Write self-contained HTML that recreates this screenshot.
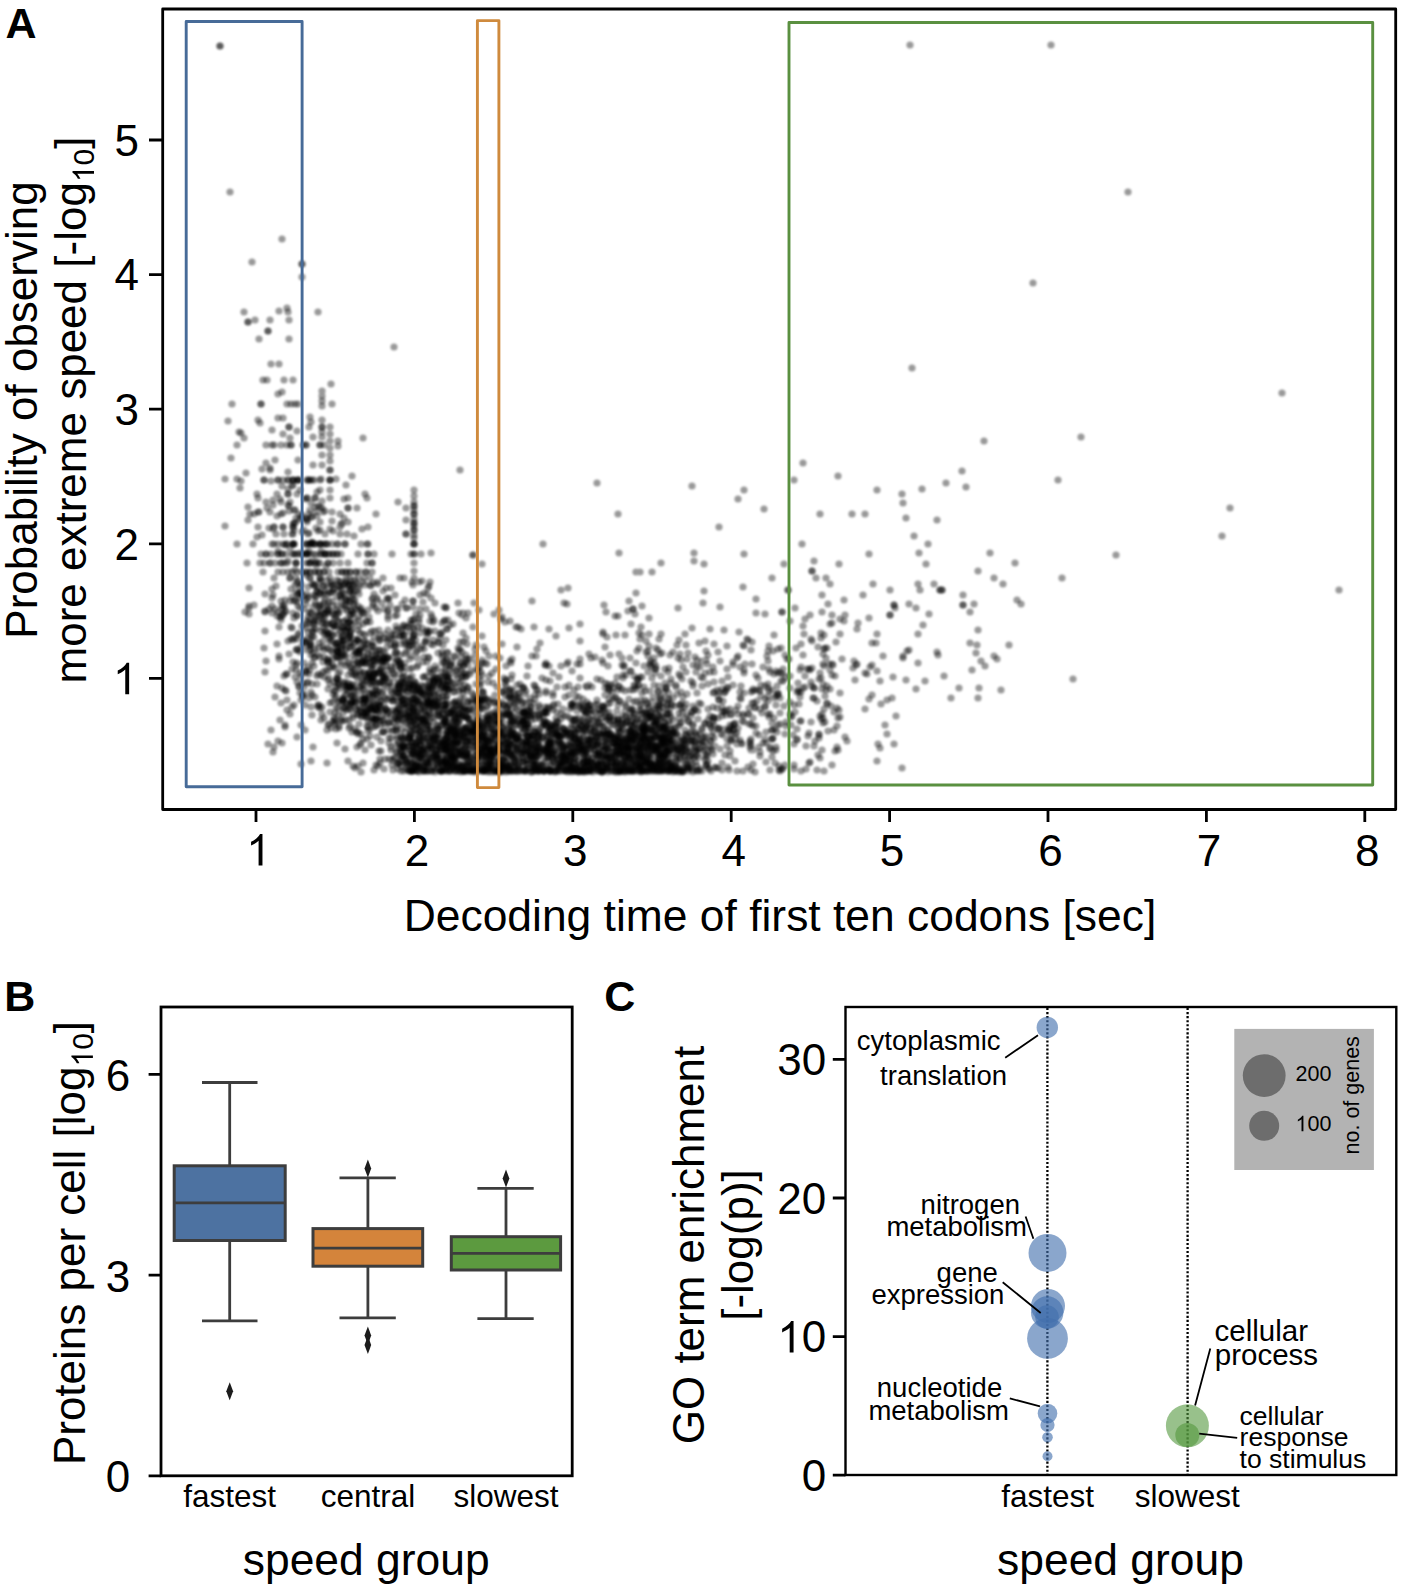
<!DOCTYPE html>
<html><head><meta charset="utf-8"><style>html,body{margin:0;padding:0;background:#fff;width:1405px;height:1592px;overflow:hidden}svg{display:block}text{font-family:"Liberation Sans",sans-serif}</style></head>
<body><svg width="1405" height="1592" viewBox="0 0 1405 1592"><defs><filter id="bl" x="-5%" y="-5%" width="110%" height="110%"><feGaussianBlur stdDeviation="1.0"/></filter></defs><g stroke="#000" stroke-opacity="0.4" stroke-width="7.2" stroke-linecap="round" fill="none" filter="url(#bl)"><path d="M660 761h0M591 740h0M649 742h0M700 734h0M656 720h0M330 448h0M692 741h0M454 656h0M320 544h0M468 719h0M369 682h0M278 551h0M373 695h0M671 765h0M530 757h0M581 770h0M695 709h0M457 743h0M742 744h0M418 758h0M404 699h0M368 703h0M400 578h0M448 766h0M663 729h0M550 765h0M455 757h0M414 635h0M372 678h0M659 703h0M428 702h0M476 701h0M615 772h0M422 755h0M682 740h0M376 674h0M583 745h0M636 572h0M355 699h0M406 644h0M314 637h0M528 736h0M370 736h0M348 498h0M626 723h0M496 720h0M409 684h0M603 663h0M641 755h0M528 724h0M437 749h0M588 744h0M445 762h0M340 595h0M605 695h0M429 686h0M376 690h0M359 626h0M776 671h0M401 682h0M712 750h0M372 656h0M338 702h0M869 618h0M575 763h0M603 726h0M468 702h0M516 627h0M576 752h0M368 554h0M778 649h0M587 705h0M293 527h0M408 627h0M382 673h0M306 643h0M635 724h0M380 635h0M346 631h0M698 719h0M438 728h0M435 770h0M615 739h0M425 753h0M608 693h0M569 767h0M469 769h0M308 598h0M330 434h0M623 752h0M639 764h0M640 572h0M476 669h0M620 772h0M358 714h0M688 767h0M369 704h0M633 761h0M481 681h0M312 584h0M336 708h0M724 711h0M364 680h0M497 771h0M511 771h0M306 544h0M670 770h0M337 679h0M333 659h0M563 746h0M365 699h0M914 536h0M548 743h0M288 312h0M292 669h0M404 640h0M660 711h0M546 693h0M560 763h0"/><path d="M674 732h0M400 664h0M678 750h0M795 712h0M317 684h0M602 750h0M633 769h0M309 698h0M420 731h0M728 688h0M294 530h0M331 585h0M539 768h0M464 665h0M457 755h0M551 748h0M330 490h0M590 749h0M502 644h0M399 744h0M623 741h0M274 527h0M610 757h0M454 714h0M646 741h0M464 698h0M439 703h0M343 708h0M974 604h0M400 636h0M311 422h0M811 682h0M575 746h0M445 720h0M481 672h0M570 761h0M664 739h0M597 755h0M319 572h0M440 750h0M434 682h0M509 705h0M668 714h0M323 586h0M367 622h0M636 753h0M631 725h0M403 756h0M625 704h0M500 769h0M664 722h0M314 658h0M465 748h0M308 667h0M380 706h0M687 766h0M328 689h0M447 685h0M349 622h0M416 699h0M488 769h0M375 710h0M443 655h0M511 735h0M686 704h0M657 768h0M358 620h0M649 618h0M643 770h0M609 712h0M540 643h0M649 646h0M414 712h0M324 634h0M273 529h0M619 723h0M381 709h0M595 720h0M822 595h0M937 520h0M474 603h0M481 752h0M325 544h0M826 690h0M289 511h0M631 747h0M491 751h0M429 701h0M702 741h0M315 649h0M682 708h0M394 347h0M629 737h0M752 664h0M942 590h0M544 748h0M479 756h0M589 748h0M620 754h0M653 734h0M654 765h0M670 740h0M397 739h0M455 703h0M310 572h0M613 688h0M499 742h0M411 763h0M494 752h0M320 445h0M590 724h0M470 771h0M940 590h0M770 770h0M865 673h0M289 427h0M382 681h0M495 769h0M587 739h0"/><path d="M535 764h0M488 766h0M389 743h0M522 704h0M590 762h0M490 724h0M489 719h0M315 657h0M350 621h0M627 762h0M829 664h0M444 723h0M586 713h0M452 662h0M490 746h0M460 754h0M278 741h0M509 742h0M670 750h0M272 598h0M503 728h0M437 757h0M459 751h0M350 615h0M429 744h0M589 709h0M659 705h0M346 572h0M381 725h0M765 699h0M602 747h0M448 731h0M670 709h0M606 764h0M539 767h0M307 520h0M248 322h0M463 749h0M294 601h0M784 564h0M718 696h0M675 765h0M535 699h0M429 730h0M857 629h0M404 672h0M550 771h0M414 578h0M661 770h0M656 666h0M767 656h0M657 771h0M756 690h0M618 690h0M525 694h0M600 761h0M502 764h0M473 760h0M643 713h0M449 674h0M647 704h0M306 673h0M294 705h0M446 685h0M318 588h0M371 745h0M399 644h0M407 723h0M439 682h0M495 722h0M722 689h0M791 725h0M410 758h0M377 711h0M556 744h0M718 718h0M564 747h0M353 646h0M437 686h0M471 763h0M499 762h0M406 534h0M699 757h0M664 763h0M424 734h0M490 723h0M651 716h0M497 718h0M572 705h0M489 741h0M595 712h0M396 752h0M510 691h0M691 767h0M607 730h0M437 706h0M583 751h0M638 736h0M502 740h0M663 716h0M632 709h0M357 508h0M420 615h0M332 624h0M567 604h0M452 768h0M463 692h0M630 738h0M646 771h0M615 683h0M546 691h0M352 476h0M668 750h0M333 625h0M388 670h0M498 703h0M378 658h0M480 704h0M547 770h0"/><path d="M366 713h0M589 765h0M575 719h0M801 692h0M679 674h0M503 760h0M423 741h0M519 759h0M643 756h0M364 709h0M355 600h0M653 765h0M350 635h0M358 681h0M728 767h0M424 771h0M455 718h0M501 731h0M564 734h0M338 572h0M575 733h0M373 661h0M815 741h0M503 768h0M651 712h0M572 707h0M619 701h0M412 582h0M873 584h0M680 705h0M461 704h0M319 572h0M672 768h0M483 764h0M409 688h0M383 711h0M649 713h0M679 772h0M812 571h0M269 609h0M865 709h0M328 634h0M776 696h0M562 751h0M336 643h0M297 737h0M412 727h0M291 589h0M431 700h0M346 599h0M447 689h0M636 763h0M457 736h0M563 764h0M810 762h0M294 638h0M343 699h0M409 700h0M336 729h0M574 738h0M257 494h0M312 561h0M483 709h0M283 572h0M367 712h0M598 771h0M333 563h0M575 757h0M298 480h0M365 494h0M561 748h0M403 626h0M432 688h0M443 741h0M444 740h0M410 751h0M316 616h0M402 604h0M460 733h0M702 771h0M751 770h0M538 771h0M321 554h0M744 670h0M621 748h0M453 692h0M649 753h0M512 756h0M300 693h0M794 480h0M645 746h0M360 671h0M632 755h0M462 689h0M335 698h0M582 750h0M585 722h0M566 771h0M642 736h0M559 742h0M549 749h0M654 771h0M452 762h0M811 639h0M414 694h0M567 760h0M498 745h0M994 578h0M506 666h0M316 597h0M620 771h0M411 771h0M415 714h0M331 582h0M475 734h0M430 631h0M321 554h0M362 661h0M379 706h0"/><path d="M322 595h0M376 708h0M431 749h0M424 766h0M457 728h0M647 764h0M978 698h0M484 770h0M335 722h0M772 730h0M458 648h0M574 750h0M516 708h0M445 689h0M339 613h0M688 769h0M301 725h0M937 652h0M444 662h0M350 572h0M347 619h0M278 554h0M328 671h0M800 670h0M352 732h0M490 763h0M517 750h0M578 751h0M372 669h0M660 765h0M454 735h0M653 717h0M407 680h0M798 690h0M431 697h0M823 718h0M398 718h0M319 615h0M557 733h0M468 613h0M438 715h0M349 638h0M827 703h0M830 624h0M341 599h0M511 679h0M376 691h0M307 498h0M778 695h0M302 646h0M775 763h0M310 554h0M392 670h0M438 706h0M437 715h0M364 655h0M327 595h0M894 605h0M444 764h0M632 762h0M641 772h0M638 758h0M946 483h0M821 678h0M586 753h0M736 739h0M385 675h0M365 712h0M627 747h0M298 581h0M455 714h0M269 528h0M608 758h0M644 687h0M892 698h0M365 648h0M343 640h0M735 723h0M584 763h0M548 769h0M675 767h0M558 769h0M450 670h0M464 734h0M261 404h0M466 727h0M274 578h0M368 651h0M436 759h0M636 752h0M430 582h0M472 731h0M408 764h0M501 772h0M616 698h0M614 717h0M418 717h0M432 617h0M659 763h0M511 735h0M387 676h0M438 764h0M1021 604h0M296 563h0M266 445h0M374 707h0M386 709h0M310 480h0M274 445h0M598 723h0M372 678h0M730 729h0M503 716h0M636 734h0M454 702h0M515 771h0M499 722h0M387 657h0M465 771h0"/><path d="M461 708h0M515 766h0M615 616h0M288 505h0M655 751h0M564 716h0M696 751h0M457 670h0M539 747h0M468 737h0M537 757h0M699 771h0M686 749h0M564 760h0M531 717h0M603 632h0M328 563h0M561 736h0M332 636h0M561 762h0M393 701h0M460 649h0M367 563h0M740 692h0M392 760h0M417 651h0M660 705h0M359 642h0M383 677h0M430 681h0M349 636h0M330 498h0M643 749h0M629 758h0M745 664h0M538 739h0M328 680h0M372 706h0M385 660h0M314 585h0M344 606h0M520 753h0M548 732h0M694 750h0M503 722h0M620 732h0M511 753h0M507 738h0M320 593h0M347 686h0M676 727h0M544 750h0M636 663h0M644 731h0M643 771h0M505 622h0M646 743h0M560 743h0M623 753h0M567 664h0M338 446h0M893 677h0M733 730h0M639 685h0M508 768h0M735 761h0M485 761h0M324 657h0M397 752h0M337 678h0M462 736h0M756 599h0M606 741h0M277 644h0M249 614h0M743 714h0M348 606h0M494 740h0M681 723h0M564 733h0M300 593h0M339 726h0M506 686h0M580 641h0M630 759h0M454 716h0M318 312h0M628 749h0M469 750h0M583 771h0M351 684h0M262 469h0M433 679h0M320 582h0M291 404h0M696 734h0M396 712h0M654 738h0M556 723h0M412 763h0M401 760h0M452 769h0M414 554h0M926 564h0M583 753h0M657 737h0M907 651h0M566 761h0M592 747h0M526 744h0M439 697h0M580 740h0M620 743h0M617 742h0M377 660h0M414 709h0M580 771h0M489 656h0M596 763h0"/><path d="M731 740h0M338 684h0M651 716h0M478 748h0M617 761h0M395 616h0M499 610h0M414 526h0M325 554h0M672 705h0M553 761h0M644 737h0M651 757h0M431 736h0M445 709h0M417 728h0M890 590h0M485 762h0M693 772h0M320 593h0M503 750h0M784 706h0M431 747h0M522 733h0M602 764h0M421 719h0M482 564h0M665 683h0M494 614h0M345 655h0M402 757h0M690 733h0M635 745h0M478 713h0M620 771h0M412 754h0M404 738h0M678 771h0M297 663h0M448 681h0M483 737h0M435 737h0M499 745h0M424 707h0M786 726h0M361 734h0M533 761h0M570 746h0M663 764h0M416 743h0M803 463h0M364 578h0M324 718h0M376 655h0M574 767h0M427 734h0M352 588h0M552 759h0M365 641h0M445 673h0M515 734h0M414 490h0M310 643h0M719 700h0M462 717h0M631 741h0M328 663h0M416 689h0M562 765h0M330 642h0M511 663h0M644 730h0M539 748h0M618 719h0M444 744h0M527 728h0M527 676h0M751 650h0M384 658h0M613 738h0M293 534h0M545 707h0M638 719h0M680 759h0M523 733h0M578 729h0M550 743h0M463 728h0M527 749h0M480 708h0M501 715h0M375 631h0M460 642h0M401 771h0M785 765h0M526 691h0M419 622h0M572 772h0M592 687h0M785 766h0M346 695h0M511 689h0M346 666h0M749 708h0M318 531h0M358 640h0M304 554h0M706 754h0M419 767h0M365 663h0M546 680h0M555 725h0M461 750h0M416 731h0M778 725h0M383 676h0M404 625h0M673 735h0M405 747h0"/><path d="M328 610h0M660 744h0M272 589h0M515 763h0M592 758h0M304 687h0M468 710h0M330 441h0M465 737h0M316 544h0M684 764h0M480 707h0M368 610h0M342 637h0M505 751h0M652 726h0M505 748h0M548 756h0M338 621h0M419 705h0M640 755h0M766 732h0M997 659h0M276 534h0M583 762h0M503 766h0M514 754h0M278 480h0M509 770h0M413 703h0M646 763h0M381 751h0M313 653h0M427 594h0M337 554h0M490 750h0M307 544h0M454 767h0M476 756h0M382 667h0M313 544h0M443 724h0M590 740h0M355 643h0M322 420h0M285 600h0M619 738h0M668 767h0M331 728h0M467 675h0M499 752h0M385 653h0M664 727h0M515 759h0M744 646h0M314 584h0M641 771h0M651 741h0M442 725h0M391 588h0M429 746h0M722 707h0M574 720h0M377 600h0M339 728h0M422 730h0M501 733h0M320 708h0M468 729h0M435 700h0M466 736h0M422 721h0M377 720h0M470 749h0M530 738h0M481 702h0M890 615h0M435 740h0M630 658h0M289 339h0M608 743h0M553 759h0M641 719h0M306 544h0M478 721h0M702 730h0M668 703h0M482 663h0M442 771h0M318 622h0M341 524h0M770 672h0M602 771h0M434 641h0M340 527h0M405 635h0M618 766h0M346 703h0M527 719h0M461 730h0M641 728h0M912 368h0M799 692h0M648 763h0M697 736h0M478 769h0M353 655h0M519 766h0M734 729h0M282 688h0M464 771h0M265 612h0M414 538h0M398 629h0M606 757h0M421 719h0M645 726h0M433 640h0M424 707h0"/><path d="M497 766h0M650 715h0M794 744h0M567 749h0M628 731h0M726 690h0M645 750h0M772 723h0M379 673h0M527 764h0M422 749h0M446 750h0M820 716h0M529 732h0M451 747h0M433 680h0M429 707h0M664 763h0M451 729h0M744 490h0M682 772h0M333 554h0M342 700h0M369 617h0M447 748h0M837 747h0M551 765h0M404 684h0M651 768h0M485 747h0M994 656h0M534 627h0M814 561h0M435 739h0M803 655h0M680 705h0M287 544h0M570 733h0M671 733h0M804 634h0M587 761h0M434 767h0M580 737h0M480 698h0M652 678h0M631 733h0M312 480h0M355 768h0M538 771h0M293 544h0M511 755h0M414 563h0M376 711h0M683 745h0M297 583h0M574 730h0M564 729h0M627 735h0M551 729h0M466 745h0M405 600h0M725 729h0M558 704h0M600 714h0M685 743h0M352 611h0M595 766h0M288 480h0M558 722h0M565 755h0M568 735h0M610 703h0M357 747h0M637 765h0M675 771h0M670 714h0M648 755h0M413 585h0M576 743h0M779 770h0M591 731h0M415 765h0M488 772h0M635 614h0M351 696h0M393 710h0M959 688h0M307 522h0M641 752h0M502 692h0M706 758h0M323 672h0M532 769h0M544 737h0M609 749h0M655 721h0M271 481h0M384 704h0M607 637h0M402 705h0M708 761h0M350 572h0M657 767h0M782 612h0M379 706h0M370 633h0M322 455h0M435 603h0M323 647h0M606 768h0M404 739h0M832 615h0M384 609h0M427 724h0M858 623h0M572 768h0M585 772h0M579 742h0M431 745h0"/><path d="M419 766h0M395 644h0M614 725h0M408 715h0M661 634h0M620 753h0M835 751h0M695 743h0M723 735h0M538 737h0M273 752h0M387 659h0M435 772h0M453 709h0M615 751h0M307 480h0M548 707h0M428 725h0M486 699h0M522 745h0M410 725h0M453 721h0M413 771h0M493 738h0M342 572h0M647 702h0M922 489h0M427 762h0M608 749h0M438 758h0M364 703h0M483 692h0M315 620h0M416 645h0M652 572h0M575 768h0M446 717h0M478 728h0M628 741h0M589 685h0M586 686h0M384 681h0M569 768h0M659 734h0M280 720h0M761 685h0M330 712h0M361 712h0M853 668h0M330 667h0M557 721h0M461 769h0M872 695h0M730 739h0M640 765h0M439 698h0M531 772h0M823 664h0M408 746h0M527 764h0M584 751h0M443 758h0M264 648h0M461 755h0M414 762h0M609 739h0M400 748h0M333 694h0M652 750h0M519 741h0M302 532h0M453 767h0M396 626h0M781 681h0M374 673h0M701 677h0M449 677h0M259 339h0M685 718h0M306 628h0M388 711h0M768 661h0M711 728h0M668 742h0M634 714h0M605 717h0M663 738h0M456 672h0M585 711h0M371 707h0M270 320h0M727 739h0M497 771h0M472 770h0M576 719h0M550 771h0M409 687h0M869 554h0M610 759h0M506 680h0M727 746h0M241 481h0M577 750h0M683 772h0M532 764h0M267 380h0M341 721h0M591 769h0M524 713h0M559 737h0M487 755h0M394 758h0M348 508h0M722 712h0M547 747h0M629 601h0M363 712h0M391 750h0M382 732h0"/><path d="M740 740h0M651 758h0M642 748h0M272 613h0M711 726h0M402 712h0M291 445h0M456 735h0M513 767h0M667 733h0M406 652h0M615 743h0M467 717h0M657 745h0M335 713h0M445 749h0M367 714h0M664 746h0M374 700h0M373 604h0M633 771h0M530 711h0M650 739h0M442 758h0M630 731h0M571 752h0M660 750h0M430 738h0M845 737h0M449 713h0M374 665h0M391 633h0M300 608h0M459 702h0M479 771h0M580 707h0M480 699h0M435 706h0M373 694h0M710 716h0M275 563h0M493 735h0M380 700h0M297 616h0M669 699h0M678 658h0M634 702h0M445 709h0M569 761h0M283 544h0M526 754h0M678 770h0M443 683h0M472 738h0M666 689h0M503 705h0M492 753h0M428 737h0M481 736h0M526 745h0M515 704h0M613 752h0M320 530h0M553 751h0M643 733h0M507 743h0M431 728h0M518 627h0M604 732h0M677 645h0M743 716h0M426 695h0M667 769h0M439 643h0M504 678h0M316 555h0M466 618h0M659 716h0M398 661h0M320 608h0M415 730h0M925 681h0M388 658h0M364 703h0M485 771h0M452 738h0M558 736h0M442 686h0M570 709h0M279 659h0M652 730h0M667 733h0M414 710h0M532 757h0M404 714h0M338 585h0M361 686h0M322 613h0M510 725h0M350 590h0M648 708h0M363 763h0M442 657h0M546 663h0M597 737h0M289 506h0M270 563h0M588 741h0M406 762h0M467 732h0M487 725h0M384 657h0M354 664h0M315 586h0M719 728h0M442 663h0M310 578h0M311 707h0M388 630h0"/><path d="M561 771h0M633 609h0M764 509h0M821 719h0M429 764h0M1058 480h0M512 731h0M296 592h0M370 578h0M780 713h0M671 717h0M314 544h0M312 636h0M440 741h0M448 765h0M442 750h0M443 696h0M297 615h0M517 738h0M520 684h0M286 691h0M336 657h0M766 762h0M427 703h0M697 749h0M649 768h0M297 554h0M322 618h0M396 711h0M372 646h0M684 740h0M554 762h0M355 673h0M410 736h0M474 695h0M580 768h0M402 678h0M445 770h0M345 708h0M586 767h0M428 771h0M487 707h0M342 647h0M401 730h0M577 664h0M529 743h0M620 742h0M441 739h0M414 706h0M720 661h0M554 758h0M618 728h0M405 759h0M466 677h0M436 745h0M695 746h0M646 714h0M417 712h0M498 748h0M580 624h0M589 654h0M530 735h0M561 666h0M509 744h0M442 718h0M410 713h0M578 761h0M616 739h0M548 752h0M483 768h0M463 737h0M619 553h0M244 438h0M469 720h0M669 740h0M684 757h0M488 714h0M637 756h0M475 730h0M707 764h0M453 757h0M471 703h0M755 708h0M413 746h0M351 704h0M348 761h0M432 761h0M627 748h0M663 730h0M669 743h0M606 757h0M344 701h0M532 771h0M710 629h0M386 709h0M877 490h0M557 728h0M249 606h0M620 767h0M270 563h0M522 758h0M308 597h0M512 716h0M460 755h0M446 608h0M630 771h0M644 761h0M411 713h0M616 752h0M635 733h0M574 771h0M391 747h0M310 578h0M527 735h0M307 683h0M483 692h0M359 659h0M867 674h0M305 730h0"/><path d="M388 610h0M516 748h0M664 692h0M548 754h0M668 771h0M445 771h0M368 727h0M259 512h0M505 683h0M520 700h0M616 764h0M404 578h0M631 624h0M370 585h0M553 706h0M418 716h0M641 766h0M418 689h0M466 655h0M516 739h0M564 729h0M544 750h0M698 711h0M320 647h0M538 735h0M457 727h0M636 738h0M446 607h0M825 648h0M258 527h0M504 756h0M664 771h0M523 721h0M466 717h0M643 723h0M723 701h0M275 609h0M431 705h0M417 771h0M686 763h0M688 653h0M539 741h0M679 713h0M306 563h0M339 680h0M636 701h0M535 728h0M688 741h0M718 652h0M459 709h0M640 749h0M254 605h0M555 771h0M495 771h0M644 722h0M536 757h0M480 702h0M503 736h0M459 613h0M531 760h0M663 703h0M709 724h0M657 706h0M295 677h0M814 746h0M352 669h0M421 750h0M636 742h0M489 741h0M440 747h0M641 710h0M262 535h0M559 677h0M314 554h0M249 608h0M365 635h0M404 771h0M492 765h0M778 673h0M436 729h0M319 705h0M377 683h0M538 690h0M448 679h0M459 717h0M450 682h0M504 730h0M604 707h0M341 582h0M453 704h0M394 723h0M820 514h0M474 767h0M508 743h0M660 728h0M515 737h0M407 691h0M248 507h0M322 432h0M637 770h0M503 728h0M417 701h0M424 766h0M414 730h0M656 738h0M416 725h0M406 520h0M278 554h0M406 714h0M362 663h0M318 648h0M598 752h0M334 718h0M536 750h0M383 691h0M504 758h0M266 463h0M484 771h0"/><path d="M480 752h0M398 769h0M417 667h0M459 714h0M618 721h0M702 686h0M495 735h0M459 734h0M324 593h0M617 772h0M724 693h0M249 588h0M663 770h0M355 580h0M486 750h0M553 693h0M408 770h0M397 653h0M790 621h0M620 746h0M603 707h0M725 712h0M414 719h0M781 648h0M449 727h0M650 746h0M356 653h0M527 742h0M330 470h0M508 711h0M728 730h0M753 689h0M319 643h0M592 732h0M608 730h0M375 705h0M738 656h0M660 764h0M730 725h0M584 755h0M1009 645h0M510 731h0M885 725h0M647 724h0M455 743h0M797 740h0M516 758h0M297 602h0M429 738h0M445 692h0M625 746h0M703 737h0M629 761h0M344 518h0M327 631h0M298 480h0M258 512h0M561 756h0M498 733h0M467 757h0M344 621h0M491 714h0M313 437h0M445 720h0M697 755h0M328 624h0M453 744h0M608 750h0M655 747h0M491 757h0M253 544h0M346 657h0M697 693h0M359 653h0M640 767h0M378 672h0M472 767h0M814 688h0M611 735h0M629 757h0M542 765h0M981 661h0M423 719h0M478 744h0M740 698h0M337 580h0M591 720h0M442 743h0M578 753h0M662 763h0M550 752h0M562 744h0M383 591h0M283 480h0M510 621h0M519 720h0M428 692h0M616 771h0M512 675h0M669 721h0M741 686h0M471 741h0M454 750h0M659 709h0M398 693h0M367 663h0M625 743h0M264 563h0M418 627h0M657 770h0M412 708h0M604 756h0M445 752h0M474 725h0M718 729h0M423 695h0M363 438h0M756 675h0"/><path d="M476 736h0M669 738h0M351 703h0M324 586h0M616 757h0M458 722h0M617 677h0M447 742h0M489 732h0M446 750h0M759 747h0M462 750h0M773 751h0M844 600h0M455 735h0M351 581h0M467 754h0M824 666h0M636 749h0M756 726h0M357 591h0M516 725h0M343 585h0M553 673h0M812 571h0M277 616h0M438 679h0M765 614h0M418 752h0M466 717h0M682 752h0M433 622h0M600 769h0M303 695h0M622 764h0M612 771h0M713 732h0M418 687h0M302 277h0M429 711h0M467 691h0M539 736h0M692 712h0M640 746h0M306 575h0M532 739h0M571 704h0M462 767h0M714 718h0M371 678h0M322 501h0M580 739h0M354 605h0M694 553h0M708 720h0M392 693h0M485 770h0M711 741h0M433 735h0M552 758h0M314 622h0M702 744h0M322 508h0M491 738h0M439 709h0M452 756h0M401 750h0M421 709h0M352 629h0M472 723h0M700 749h0M449 717h0M436 751h0M545 751h0M327 660h0M452 682h0M641 741h0M568 755h0M714 644h0M431 731h0M308 632h0M453 749h0M944 676h0M437 754h0M350 636h0M446 666h0M434 756h0M618 514h0M583 745h0M355 691h0M834 712h0M446 762h0M587 702h0M376 658h0M635 737h0M540 719h0M629 771h0M478 770h0M463 753h0M697 770h0M426 676h0M468 659h0M409 646h0M398 689h0M595 705h0M742 721h0M674 769h0M390 605h0M689 722h0M668 749h0M856 665h0M398 709h0M657 721h0M610 718h0M519 698h0M689 752h0M559 741h0M540 751h0"/><path d="M809 763h0M389 738h0M877 634h0M793 735h0M285 725h0M512 737h0M455 657h0M557 736h0M419 711h0M664 718h0M659 771h0M681 660h0M569 695h0M646 771h0M484 701h0M471 745h0M424 769h0M525 771h0M427 630h0M346 485h0M510 661h0M414 523h0M443 714h0M531 755h0M441 747h0M639 752h0M906 680h0M369 676h0M773 651h0M308 534h0M346 650h0M520 771h0M517 771h0M482 750h0M279 627h0M647 713h0M644 752h0M651 667h0M402 699h0M515 761h0M656 753h0M731 741h0M629 755h0M379 650h0M365 660h0M515 695h0M228 421h0M303 697h0M554 727h0M641 756h0M298 650h0M639 768h0M419 688h0M337 614h0M668 752h0M422 751h0M639 727h0M532 772h0M624 767h0M679 640h0M657 720h0M402 629h0M309 612h0M797 729h0M697 666h0M601 756h0M377 718h0M405 654h0M383 578h0M592 710h0M795 608h0M824 709h0M338 621h0M580 747h0M373 722h0M462 652h0M332 404h0M368 710h0M316 528h0M397 736h0M598 764h0M290 601h0M544 771h0M368 721h0M415 762h0M461 766h0M476 745h0M472 731h0M655 737h0M669 693h0M587 744h0M361 544h0M598 710h0M332 592h0M436 735h0M447 767h0M583 699h0M399 763h0M605 688h0M428 588h0M365 644h0M755 707h0M551 735h0M461 741h0M418 690h0M272 430h0M501 742h0M646 728h0M507 708h0M448 714h0M546 722h0M352 695h0M658 720h0M539 731h0M822 612h0M647 759h0M334 619h0M328 662h0"/><path d="M459 683h0M342 701h0M695 756h0M410 624h0M522 737h0M287 700h0M322 714h0M309 623h0M429 722h0M401 766h0M564 765h0M454 771h0M579 718h0M337 651h0M469 739h0M585 756h0M439 693h0M605 647h0M424 737h0M669 738h0M598 741h0M729 731h0M307 554h0M651 661h0M373 682h0M447 676h0M683 769h0M345 749h0M644 729h0M666 748h0M565 758h0M624 665h0M272 445h0M929 614h0M570 718h0M365 689h0M827 704h0M330 703h0M796 648h0M647 758h0M322 623h0M662 742h0M588 771h0M442 652h0M389 599h0M765 706h0M673 733h0M561 767h0M540 746h0M823 684h0M574 769h0M780 724h0M641 738h0M808 736h0M488 769h0M560 766h0M441 705h0M782 612h0M578 687h0M611 763h0M599 753h0M633 609h0M671 744h0M523 688h0M479 736h0M333 614h0M340 631h0M644 736h0M445 740h0M596 726h0M572 767h0M666 688h0M676 745h0M544 771h0M667 714h0M740 667h0M333 635h0M576 768h0M339 686h0M495 733h0M302 626h0M663 757h0M336 644h0M392 765h0M347 689h0M363 685h0M668 764h0M478 671h0M416 614h0M330 427h0M467 752h0M345 544h0M366 674h0M271 730h0M637 720h0M608 769h0M489 676h0M451 730h0M543 544h0M473 771h0M444 705h0M360 649h0M469 762h0M692 764h0M483 765h0M451 760h0M300 673h0M466 756h0M458 755h0M474 732h0M680 654h0M744 693h0M397 730h0M422 759h0M578 772h0M651 738h0M294 554h0M473 742h0"/><path d="M517 685h0M671 683h0M536 769h0M654 663h0M348 508h0M517 647h0M706 765h0M598 756h0M627 752h0M261 404h0M695 741h0M790 714h0M685 730h0M499 735h0M432 748h0M535 761h0M312 715h0M412 753h0M528 666h0M536 656h0M374 647h0M409 728h0M535 695h0M561 736h0M593 772h0M504 771h0M749 724h0M727 710h0M478 740h0M351 667h0M622 658h0M350 648h0M418 665h0M696 762h0M494 729h0M609 735h0M652 744h0M538 770h0M362 529h0M299 514h0M634 728h0M414 530h0M641 714h0M669 763h0M643 726h0M615 747h0M572 758h0M574 749h0M542 678h0M618 748h0M676 687h0M318 705h0M672 767h0M451 712h0M533 744h0M751 739h0M407 728h0M328 659h0M625 772h0M662 752h0M643 730h0M308 638h0M420 732h0M320 605h0M383 662h0M589 761h0M356 651h0M489 721h0M334 691h0M612 762h0M634 741h0M334 626h0M632 725h0M588 762h0M367 677h0M487 746h0M437 669h0M306 445h0M579 705h0M373 697h0M790 676h0M787 659h0M450 771h0M490 746h0M649 739h0M655 723h0M611 756h0M619 654h0M321 631h0M483 727h0M384 724h0M688 721h0M240 488h0M613 761h0M355 702h0M430 760h0M668 771h0M379 638h0M292 597h0M357 640h0M618 750h0M493 748h0M439 716h0M474 747h0M492 743h0M318 563h0M720 607h0M415 767h0M416 719h0M310 563h0M509 765h0M490 760h0M1051 45h0M518 765h0M499 730h0M414 519h0M456 757h0M353 689h0"/><path d="M247 563h0M661 763h0M373 583h0M629 745h0M597 738h0M610 655h0M296 670h0M335 615h0M438 642h0M463 633h0M656 745h0M415 743h0M686 645h0M316 512h0M544 771h0M902 768h0M479 725h0M327 648h0M422 762h0M458 768h0M476 751h0M420 595h0M296 563h0M415 691h0M765 739h0M333 585h0M482 753h0M590 710h0M680 751h0M529 728h0M616 757h0M400 697h0M350 687h0M391 645h0M607 720h0M455 733h0M376 725h0M466 756h0M366 717h0M406 627h0M450 665h0M847 741h0M602 763h0M534 758h0M572 746h0M448 748h0M484 696h0M468 763h0M625 768h0M283 418h0M500 733h0M794 705h0M428 750h0M365 648h0M428 633h0M463 756h0M283 527h0M376 694h0M300 554h0M549 742h0M411 743h0M865 514h0M760 756h0M826 578h0M562 743h0M300 553h0M902 494h0M643 734h0M394 678h0M482 692h0M838 750h0M404 755h0M652 730h0M316 629h0M353 599h0M667 705h0M1339 590h0M418 687h0M587 771h0M735 734h0M612 743h0M670 754h0M241 433h0M338 652h0M602 734h0M814 698h0M379 712h0M293 524h0M322 427h0M641 755h0M942 590h0M918 584h0M665 723h0M237 445h0M556 771h0M421 691h0M268 331h0M492 699h0M759 735h0M777 732h0M623 728h0M776 705h0M459 667h0M360 745h0M705 760h0M495 695h0M671 762h0M497 757h0M577 771h0M632 721h0M453 668h0M315 602h0M414 690h0M320 563h0M463 710h0M598 744h0M388 612h0M630 768h0"/><path d="M645 691h0M569 771h0M918 663h0M301 676h0M325 613h0M386 699h0M658 749h0M526 731h0M660 727h0M347 601h0M458 771h0M477 740h0M282 606h0M348 586h0M405 677h0M459 765h0M274 527h0M587 762h0M477 700h0M637 728h0M662 744h0M358 766h0M365 750h0M780 771h0M705 724h0M576 732h0M447 771h0M547 748h0M679 718h0M399 708h0M444 745h0M438 746h0M462 716h0M453 757h0M535 753h0M370 708h0M538 711h0M466 733h0M713 721h0M329 661h0M522 729h0M434 705h0M388 730h0M403 747h0M428 716h0M622 689h0M439 735h0M419 619h0M788 590h0M340 689h0M274 544h0M526 716h0M460 720h0M456 706h0M322 401h0M527 751h0M543 717h0M353 585h0M511 736h0M466 729h0M499 760h0M578 743h0M667 709h0M562 756h0M332 512h0M531 708h0M413 707h0M411 656h0M535 770h0M486 722h0M827 686h0M636 722h0M499 750h0M409 679h0M278 394h0M828 604h0M719 700h0M710 747h0M593 758h0M465 677h0M406 761h0M508 715h0M552 753h0M428 765h0M446 640h0M325 591h0M770 747h0M545 721h0M530 698h0M633 749h0M307 498h0M479 757h0M367 679h0M265 672h0M376 726h0M649 730h0M501 766h0M407 697h0M654 769h0M712 736h0M334 589h0M507 736h0M440 771h0M533 764h0M483 754h0M427 662h0M561 719h0M298 635h0M348 683h0M765 686h0M415 752h0M331 651h0M559 760h0M424 677h0M500 658h0M683 667h0M527 741h0M395 635h0"/><path d="M365 585h0M617 747h0M438 653h0M452 747h0M695 657h0M454 732h0M494 772h0M962 471h0M463 673h0M567 748h0M411 554h0M762 713h0M566 732h0M372 681h0M502 759h0M491 756h0M413 771h0M540 770h0M288 641h0M368 644h0M326 566h0M750 741h0M475 649h0M465 746h0M566 755h0M300 652h0M454 730h0M360 712h0M821 633h0M495 730h0M569 686h0M768 696h0M423 723h0M485 663h0M401 668h0M645 700h0M448 741h0M794 769h0M354 603h0M481 709h0M377 582h0M656 648h0M353 685h0M611 736h0M648 656h0M656 747h0M626 761h0M360 572h0M744 722h0M569 685h0M341 719h0M679 726h0M412 689h0M497 706h0M432 771h0M532 749h0M738 728h0M419 702h0M531 755h0M666 761h0M312 631h0M276 586h0M306 624h0M603 757h0M570 761h0M500 765h0M488 752h0M758 678h0M434 681h0M451 751h0M401 756h0M618 740h0M665 735h0M459 691h0M307 594h0M482 718h0M355 609h0M355 639h0M620 771h0M514 733h0M317 591h0M414 684h0M602 712h0M640 763h0M783 669h0M445 748h0M346 600h0M416 640h0M517 738h0M579 772h0M294 618h0M480 729h0M544 751h0M413 607h0M595 751h0M650 663h0M544 768h0M592 740h0M553 710h0M518 771h0M610 738h0M688 736h0M421 732h0M473 555h0M312 624h0M622 730h0M290 502h0M307 554h0M644 739h0M597 718h0M332 612h0M919 553h0M414 530h0M591 771h0M460 771h0M402 632h0M471 757h0M358 578h0"/><path d="M588 707h0M459 723h0M483 728h0M298 460h0M320 507h0M350 642h0M391 738h0M473 771h0M374 709h0M255 320h0M437 760h0M318 674h0M456 771h0M524 717h0M785 734h0M604 727h0M356 709h0M728 677h0M420 724h0M498 749h0M428 688h0M436 678h0M569 740h0M727 669h0M526 703h0M447 726h0M373 678h0M540 771h0M374 554h0M482 741h0M641 743h0M497 712h0M479 750h0M396 712h0M534 685h0M703 603h0M549 746h0M608 763h0M411 742h0M621 768h0M277 494h0M314 544h0M295 523h0M329 554h0M337 544h0M598 742h0M309 514h0M448 713h0M557 712h0M400 754h0M453 766h0M659 771h0M416 767h0M407 707h0M426 722h0M618 720h0M601 762h0M447 659h0M303 445h0M710 672h0M794 765h0M637 747h0M440 638h0M397 615h0M257 537h0M744 673h0M374 677h0M729 770h0M465 753h0M480 684h0M414 514h0M611 771h0M430 669h0M337 605h0M372 631h0M580 730h0M330 578h0M415 724h0M765 707h0M326 554h0M406 743h0M667 748h0M839 564h0M340 641h0M534 766h0M630 709h0M627 739h0M521 629h0M402 700h0M512 659h0M333 667h0M457 751h0M538 749h0M550 708h0M294 510h0M658 749h0M370 676h0M613 743h0M491 752h0M632 740h0M844 621h0M442 623h0M587 757h0M659 767h0M750 747h0M476 684h0M480 726h0M309 480h0M485 736h0M686 735h0M404 683h0M414 685h0M411 646h0M802 544h0M292 554h0M433 703h0M338 643h0M376 708h0"/><path d="M468 688h0M633 690h0M349 584h0M517 701h0M612 768h0M553 696h0M526 742h0M493 683h0M581 721h0M455 748h0M800 721h0M631 732h0M445 662h0M363 739h0M282 554h0M366 710h0M328 563h0M577 711h0M589 719h0M475 755h0M615 755h0M528 725h0M686 751h0M670 768h0M522 721h0M404 745h0M544 721h0M381 717h0M780 672h0M487 706h0M572 755h0M501 765h0M444 607h0M751 745h0M374 594h0M440 725h0M363 582h0M474 760h0M409 721h0M403 635h0M340 587h0M714 718h0M464 663h0M551 726h0M450 757h0M587 725h0M654 725h0M445 760h0M468 702h0M286 674h0M418 753h0M372 599h0M460 663h0M546 758h0M976 653h0M332 641h0M655 673h0M379 691h0M624 724h0M396 630h0M476 758h0M421 759h0M568 772h0M800 697h0M344 683h0M550 741h0M685 708h0M345 627h0M696 672h0M594 726h0M341 554h0M410 738h0M1033 283h0M486 744h0M467 741h0M321 551h0M413 747h0M383 732h0M579 749h0M664 738h0M379 630h0M680 758h0M565 771h0M604 750h0M304 530h0M336 618h0M680 769h0M469 733h0M482 746h0M380 683h0M325 599h0M368 554h0M1081 437h0M617 711h0M791 717h0M642 635h0M681 754h0M476 645h0M600 723h0M549 744h0M341 628h0M344 499h0M774 718h0M512 698h0M517 710h0M519 764h0M574 690h0M305 499h0M395 690h0M588 765h0M454 745h0M896 716h0M430 705h0M388 658h0M522 751h0M401 668h0M569 756h0M479 668h0"/><path d="M297 431h0M331 633h0M343 641h0M659 745h0M451 664h0M429 695h0M695 732h0M502 702h0M701 704h0M646 716h0M574 702h0M602 718h0M639 750h0M528 709h0M330 639h0M450 732h0M500 771h0M649 729h0M692 740h0M418 756h0M499 751h0M528 746h0M346 648h0M658 758h0M413 738h0M391 716h0M619 771h0M563 728h0M443 710h0M337 610h0M448 681h0M676 758h0M300 587h0M594 745h0M834 730h0M581 746h0M644 753h0M551 754h0M483 771h0M557 734h0M633 740h0M372 642h0M661 739h0M621 746h0M526 712h0M659 756h0M604 734h0M783 681h0M595 740h0M643 738h0M680 747h0M671 740h0M1073 679h0M398 763h0M439 761h0M644 758h0M335 720h0M410 702h0M571 771h0M644 766h0M778 694h0M339 702h0M683 697h0M545 762h0M790 702h0M641 733h0M491 753h0M482 636h0M489 728h0M366 572h0M311 517h0M550 743h0M335 691h0M649 763h0M285 545h0M368 658h0M427 698h0M805 619h0M662 653h0M655 763h0M451 763h0M370 684h0M507 707h0M489 755h0M576 765h0M355 729h0M467 758h0M359 651h0M566 770h0M713 667h0M528 736h0M649 744h0M699 749h0M487 716h0M631 736h0M420 718h0M460 767h0M640 639h0M573 763h0M423 662h0M629 748h0M823 654h0M591 771h0M665 738h0M597 736h0M294 523h0M348 522h0M423 694h0M563 758h0M350 602h0M388 639h0M591 734h0M482 675h0M410 685h0M768 688h0M544 771h0M719 729h0M278 612h0"/><path d="M622 665h0M423 602h0M320 445h0M635 734h0M451 757h0M292 628h0M309 674h0M486 740h0M694 561h0M661 771h0M625 771h0M281 617h0M356 572h0M391 686h0M580 664h0M522 753h0M840 717h0M445 620h0M747 639h0M477 761h0M293 380h0M427 636h0M565 771h0M283 527h0M546 741h0M583 763h0M611 737h0M648 718h0M283 513h0M368 674h0M299 520h0M612 692h0M820 758h0M617 723h0M352 596h0M657 714h0M449 736h0M509 752h0M1116 555h0M648 752h0M446 704h0M659 733h0M471 770h0M338 647h0M452 753h0M410 738h0M938 655h0M681 753h0M459 705h0M773 738h0M626 675h0M596 761h0M629 699h0M327 605h0M337 657h0M826 658h0M594 745h0M618 736h0M704 591h0M367 498h0M405 645h0M654 767h0M536 752h0M563 752h0M322 427h0M338 441h0M331 593h0M371 721h0M325 534h0M363 624h0M553 742h0M433 694h0M689 768h0M430 741h0M895 608h0M421 755h0M287 710h0M533 735h0M625 765h0M323 605h0M380 672h0M293 613h0M548 723h0M448 735h0M549 629h0M467 753h0M483 723h0M676 757h0M547 726h0M511 765h0M491 749h0M638 680h0M312 695h0M426 640h0M798 683h0M391 691h0M614 743h0M431 745h0M408 738h0M633 710h0M599 732h0M693 683h0M768 651h0M700 667h0M501 745h0M872 665h0M651 769h0M525 764h0M546 665h0M467 644h0M272 544h0M311 644h0M467 766h0M425 748h0M350 643h0M412 722h0M421 726h0M293 480h0"/><path d="M496 724h0M285 612h0M327 607h0M559 750h0M782 674h0M588 771h0M428 700h0M676 685h0M338 708h0M631 770h0M586 732h0M466 771h0M413 753h0M693 770h0M637 766h0M625 768h0M617 745h0M468 687h0M349 622h0M458 768h0M476 765h0M869 699h0M366 661h0M830 689h0M346 702h0M709 769h0M540 757h0M447 763h0M694 758h0M604 737h0M268 744h0M704 746h0M411 620h0M324 677h0M330 684h0M501 708h0M381 662h0M374 770h0M648 748h0M445 704h0M470 731h0M663 768h0M508 758h0M434 769h0M631 768h0M605 750h0M565 770h0M725 755h0M424 770h0M532 720h0M375 673h0M430 763h0M687 694h0M655 747h0M822 750h0M470 723h0M446 744h0M650 665h0M344 630h0M693 726h0M636 689h0M325 554h0M670 736h0M272 606h0M611 733h0M497 744h0M683 771h0M387 715h0M755 772h0M458 603h0M671 767h0M430 621h0M675 771h0M591 762h0M646 719h0M356 732h0M414 554h0M434 754h0M374 727h0M380 661h0M468 710h0M418 768h0M646 641h0M770 749h0M473 764h0M301 584h0M632 771h0M332 623h0M508 748h0M479 721h0M536 756h0M555 754h0M459 749h0M317 591h0M963 605h0M378 584h0M368 544h0M281 563h0M497 745h0M599 765h0M878 744h0M484 747h0M415 747h0M425 710h0M432 766h0M890 615h0M648 744h0M414 496h0M741 699h0M532 736h0M608 736h0M439 712h0M648 771h0M335 625h0M672 744h0M474 699h0M417 734h0M539 715h0"/><path d="M356 583h0M587 750h0M665 698h0M691 756h0M318 506h0M449 732h0M520 723h0M284 563h0M531 707h0M414 630h0M501 771h0M821 638h0M825 696h0M487 750h0M630 717h0M437 759h0M655 731h0M584 768h0M549 666h0M426 609h0M416 747h0M292 572h0M324 445h0M505 744h0M493 757h0M634 734h0M631 738h0M468 665h0M413 711h0M456 717h0M454 729h0M705 673h0M410 746h0M575 771h0M436 760h0M285 690h0M588 721h0M367 726h0M401 737h0M314 666h0M555 751h0M355 702h0M562 756h0M753 764h0M425 720h0M513 721h0M489 768h0M365 699h0M528 760h0M295 600h0M666 726h0M415 748h0M646 712h0M571 753h0M378 766h0M400 636h0M668 699h0M320 490h0M872 643h0M803 688h0M583 771h0M428 771h0M395 718h0M336 687h0M469 719h0M351 687h0M687 760h0M590 769h0M1128 192h0M387 641h0M446 722h0M358 695h0M482 753h0M400 688h0M664 740h0M387 599h0M484 746h0M539 714h0M714 738h0M428 632h0M475 772h0M287 445h0M661 563h0M608 767h0M649 707h0M327 730h0M310 544h0M561 590h0M978 630h0M358 691h0M903 658h0M656 748h0M348 563h0M441 770h0M306 604h0M432 687h0M582 750h0M361 693h0M789 659h0M667 733h0M320 480h0M499 772h0M569 745h0M545 712h0M347 630h0M1015 563h0M425 742h0M581 726h0M646 763h0M492 741h0M466 767h0M375 719h0M346 632h0M412 700h0M412 746h0M738 714h0M513 740h0M445 688h0"/><path d="M456 701h0M508 729h0M538 744h0M430 672h0M734 725h0M552 733h0M442 632h0M455 733h0M523 687h0M266 554h0M369 673h0M314 629h0M462 766h0M479 726h0M389 682h0M325 511h0M928 544h0M492 724h0M626 717h0M489 754h0M483 736h0M549 731h0M676 764h0M502 754h0M523 759h0M652 702h0M310 646h0M536 742h0M304 609h0M615 738h0M558 764h0M650 771h0M562 755h0M321 479h0M306 572h0M623 755h0M566 759h0M441 750h0M627 770h0M963 605h0M324 572h0M395 646h0M657 767h0M619 732h0M491 703h0M490 758h0M491 729h0M502 617h0M717 690h0M414 535h0M737 733h0M733 665h0M496 724h0M335 668h0M344 696h0M656 669h0M677 694h0M646 735h0M664 757h0M514 760h0M301 518h0M427 755h0M446 696h0M812 686h0M590 705h0M404 704h0M832 675h0M486 752h0M237 479h0M358 715h0M463 666h0M467 745h0M477 716h0M342 605h0M320 522h0M258 420h0M313 747h0M573 752h0M358 606h0M348 691h0M467 742h0M311 638h0M543 737h0M395 697h0M465 708h0M395 595h0M580 724h0M469 771h0M414 502h0M820 673h0M372 666h0M465 770h0M700 769h0M479 677h0M304 663h0M363 690h0M623 719h0M475 655h0M350 632h0M462 739h0M431 598h0M433 684h0M336 696h0M489 763h0M672 740h0M480 666h0M349 638h0M614 720h0M582 748h0M394 674h0M290 438h0M631 711h0M550 770h0M410 717h0M648 651h0M278 572h0M585 767h0M479 733h0"/><path d="M788 590h0M313 607h0M278 418h0M830 670h0M442 730h0M455 741h0M422 628h0M665 746h0M769 646h0M692 486h0M656 735h0M445 720h0M772 578h0M327 580h0M620 771h0M497 687h0M628 611h0M456 709h0M574 721h0M354 696h0M365 716h0M509 754h0M790 688h0M423 739h0M356 676h0M810 615h0M411 731h0M548 758h0M285 727h0M353 594h0M356 709h0M655 725h0M518 745h0M426 771h0M452 688h0M507 765h0M906 518h0M338 591h0M343 622h0M489 766h0M388 699h0M424 593h0M597 744h0M575 739h0M455 765h0M400 655h0M421 554h0M501 764h0M398 693h0M554 734h0M315 498h0M572 671h0M923 625h0M824 635h0M687 659h0M417 700h0M456 721h0M638 747h0M618 771h0M315 697h0M338 634h0M707 756h0M734 724h0M605 683h0M291 445h0M286 544h0M586 771h0M498 751h0M521 726h0M497 771h0M819 679h0M598 734h0M557 687h0M415 755h0M383 651h0M441 771h0M487 664h0M707 664h0M651 768h0M461 743h0M401 665h0M483 739h0M311 761h0M571 733h0M840 634h0M601 764h0M305 518h0M327 585h0M476 662h0M626 766h0M602 706h0M474 708h0M310 619h0M452 711h0M324 602h0M604 767h0M321 554h0M310 563h0M505 760h0M460 739h0M471 671h0M386 662h0M629 756h0M432 673h0M733 662h0M519 741h0M404 721h0M337 743h0M413 694h0M763 743h0M317 612h0M439 716h0M414 571h0M427 760h0M266 661h0M619 743h0M464 730h0M462 711h0"/><path d="M452 710h0M325 618h0M464 771h0M693 686h0M665 753h0M414 699h0M691 740h0M414 506h0M695 710h0M582 726h0M315 596h0M380 706h0M757 701h0M748 640h0M567 734h0M446 700h0M302 572h0M343 656h0M329 649h0M402 737h0M622 760h0M372 572h0M543 723h0M970 643h0M616 766h0M361 610h0M454 760h0M402 719h0M447 750h0M556 636h0M551 741h0M314 624h0M596 737h0M703 678h0M330 529h0M503 692h0M697 771h0M396 609h0M486 757h0M870 667h0M287 308h0M635 714h0M413 769h0M638 686h0M313 632h0M643 727h0M349 686h0M619 687h0M622 761h0M598 767h0M371 709h0M654 685h0M618 771h0M449 771h0M278 480h0M603 738h0M675 751h0M416 691h0M603 735h0M295 404h0M649 750h0M657 723h0M534 771h0M349 720h0M329 554h0M399 714h0M332 521h0M554 738h0M359 651h0M622 716h0M360 633h0M479 758h0M806 769h0M383 721h0M493 752h0M617 735h0M409 712h0M658 650h0M506 715h0M406 534h0M447 763h0M483 748h0M348 628h0M605 745h0M430 714h0M260 563h0M358 653h0M469 770h0M549 736h0M490 769h0M682 703h0M309 427h0M511 733h0M376 719h0M429 704h0M511 710h0M602 772h0M719 527h0M293 480h0M519 693h0M641 744h0M586 751h0M315 563h0M565 760h0M446 686h0M473 710h0M548 754h0M325 624h0M836 642h0M288 572h0M298 594h0M652 719h0M583 770h0M522 754h0M305 671h0M463 716h0M344 644h0M398 685h0"/><path d="M282 239h0M565 732h0M772 739h0M389 722h0M617 745h0M399 742h0M383 676h0M533 703h0M494 712h0M373 660h0M288 561h0M642 760h0M396 692h0M661 753h0M669 724h0M638 740h0M448 690h0M517 735h0M663 742h0M309 551h0M722 716h0M399 763h0M702 728h0M330 455h0M320 578h0M751 692h0M602 660h0M666 727h0M346 720h0M985 666h0M572 704h0M655 731h0M624 667h0M450 666h0M556 749h0M692 737h0M514 763h0M652 740h0M640 762h0M575 738h0M319 606h0M769 717h0M516 750h0M627 747h0M672 730h0M355 622h0M420 633h0M384 678h0M446 738h0M408 710h0M326 635h0M524 713h0M387 647h0M621 747h0M400 662h0M731 715h0M887 700h0M437 755h0M575 759h0M360 664h0M1001 690h0M354 670h0M612 758h0M489 746h0M419 772h0M599 755h0M415 755h0M491 772h0M301 764h0M368 731h0M353 675h0M685 756h0M343 593h0M376 662h0M548 757h0M500 723h0M337 554h0M452 727h0M415 716h0M608 666h0M393 673h0M857 664h0M408 716h0M575 725h0M431 614h0M352 702h0M505 767h0M568 662h0M373 719h0M454 728h0M650 746h0M359 724h0M662 768h0M446 761h0M321 544h0M567 716h0M524 761h0M382 693h0M565 736h0M654 750h0M528 769h0M345 584h0M681 747h0M587 739h0M422 646h0M653 743h0M535 743h0M273 595h0M423 720h0M818 755h0M658 692h0M609 756h0M368 717h0M366 698h0M736 710h0M289 427h0M494 754h0M685 634h0"/><path d="M402 745h0M505 695h0M359 617h0M659 749h0M440 689h0M876 643h0M507 714h0M579 697h0M419 754h0M466 638h0M448 704h0M405 642h0M428 758h0M495 749h0M635 759h0M639 732h0M342 644h0M366 681h0M435 692h0M665 754h0M606 764h0M496 656h0M663 753h0M330 480h0M855 680h0M321 611h0M354 687h0M281 563h0M641 729h0M293 480h0M404 667h0M490 751h0M721 734h0M518 736h0M347 710h0M661 699h0M430 689h0M399 661h0M320 544h0M539 707h0M358 662h0M627 745h0M373 676h0M718 768h0M706 651h0M331 384h0M311 613h0M404 704h0M450 735h0M574 744h0M362 717h0M607 734h0M414 721h0M478 765h0M675 734h0M401 682h0M627 721h0M302 515h0M471 771h0M625 711h0M674 746h0M374 674h0M517 725h0M333 606h0M424 755h0M670 771h0M304 694h0M341 646h0M434 620h0M470 761h0M510 716h0M464 756h0M633 727h0M549 727h0M598 766h0M571 737h0M386 678h0M653 770h0M510 769h0M225 526h0M651 765h0M418 704h0M422 581h0M643 725h0M587 726h0M343 654h0M497 702h0M470 757h0M412 715h0M391 667h0M403 746h0M519 752h0M551 739h0M704 751h0M367 712h0M265 594h0M476 720h0M286 554h0M464 771h0M819 734h0M414 687h0M445 669h0M563 709h0M452 760h0M353 766h0M502 760h0M346 686h0M478 756h0M343 721h0M282 392h0M322 465h0M405 750h0M231 458h0M763 667h0M978 571h0M482 735h0M726 715h0M348 662h0"/><path d="M717 708h0M568 768h0M364 672h0M442 672h0M512 771h0M909 604h0M563 749h0M488 717h0M636 756h0M330 461h0M505 714h0M398 687h0M916 608h0M330 480h0M685 740h0M772 690h0M595 765h0M665 669h0M429 658h0M508 752h0M457 736h0M583 772h0M277 686h0M731 714h0M388 598h0M772 739h0M364 699h0M438 713h0M571 743h0M332 601h0M323 620h0M626 741h0M420 691h0M446 734h0M348 623h0M298 404h0M392 635h0M383 659h0M563 763h0M550 745h0M297 480h0M722 681h0M646 736h0M324 650h0M966 487h0M658 729h0M510 716h0M473 732h0M691 681h0M619 729h0M648 738h0M655 669h0M539 694h0M527 736h0M506 680h0M443 701h0M279 364h0M260 423h0M587 687h0M691 749h0M631 747h0M814 688h0M304 642h0M493 761h0M647 771h0M811 722h0M635 762h0M354 536h0M990 553h0M692 745h0M289 320h0M482 757h0M649 718h0M692 712h0M609 687h0M673 772h0M445 706h0M420 609h0M413 601h0M302 264h0M658 729h0M431 771h0M589 705h0M333 665h0M632 771h0M410 659h0M340 563h0M484 699h0M363 703h0M308 587h0M293 544h0M424 754h0M545 724h0M817 770h0M320 657h0M592 737h0M694 748h0M583 720h0M463 771h0M345 544h0M665 743h0M779 766h0M644 729h0M620 750h0M518 768h0M289 654h0M471 729h0M451 724h0M408 692h0M479 740h0M280 617h0M310 417h0M514 720h0M738 499h0M412 668h0M569 766h0M612 725h0M514 754h0"/><path d="M488 771h0M404 683h0M606 755h0M431 717h0M283 614h0M676 734h0M524 750h0M341 662h0M661 738h0M646 730h0M446 723h0M353 715h0M625 748h0M411 642h0M421 691h0M362 662h0M413 636h0M637 679h0M617 746h0M384 685h0M305 642h0M346 583h0M686 734h0M428 692h0M450 727h0M589 771h0M358 640h0M379 641h0M660 654h0M281 601h0M487 719h0M671 704h0M433 687h0M777 686h0M315 572h0M452 765h0M832 623h0M248 520h0M535 686h0M659 760h0M714 692h0M550 729h0M480 686h0M395 653h0M782 769h0M623 678h0M343 641h0M434 670h0M689 756h0M654 658h0M739 632h0M632 736h0M535 756h0M407 758h0M394 646h0M412 756h0M350 726h0M414 619h0M459 714h0M429 681h0M666 687h0M361 743h0M623 740h0M551 771h0M589 746h0M379 697h0M665 755h0M364 714h0M464 767h0M646 739h0M424 686h0M490 719h0M402 752h0M493 722h0M514 703h0M298 606h0M408 717h0M641 700h0M297 639h0M608 688h0M643 739h0M659 725h0M454 710h0M412 742h0M1230 508h0M705 742h0M263 572h0M525 770h0M497 714h0M461 752h0M671 679h0M358 664h0M436 755h0M520 770h0M583 709h0M446 743h0M529 716h0M545 665h0M392 698h0M420 745h0M482 771h0M421 696h0M288 472h0M623 761h0M631 671h0M769 691h0M505 768h0M292 486h0M446 761h0M458 678h0M403 677h0M410 734h0M535 767h0M511 771h0M291 627h0M525 728h0M610 716h0M445 676h0"/><path d="M443 762h0M448 731h0M437 725h0M477 697h0M473 555h0M682 712h0M644 724h0M525 725h0M526 719h0M531 756h0M282 743h0M340 514h0M426 686h0M313 465h0M392 701h0M494 718h0M366 572h0M433 703h0M413 645h0M731 727h0M597 769h0M530 702h0M246 473h0M439 684h0M750 743h0M441 771h0M423 771h0M321 720h0M539 717h0M880 681h0M529 751h0M396 727h0M517 771h0M457 723h0M673 652h0M296 650h0M346 572h0M634 740h0M372 717h0M415 698h0M751 750h0M838 476h0M398 609h0M536 771h0M332 544h0M446 706h0M513 746h0M589 740h0M307 650h0M488 725h0M452 756h0M358 554h0M568 588h0M423 677h0M565 697h0M494 716h0M281 514h0M753 750h0M340 586h0M420 726h0M380 763h0M361 772h0M376 608h0M410 750h0M402 692h0M298 594h0M601 680h0M722 763h0M545 711h0M283 434h0M842 659h0M678 740h0M545 725h0M603 768h0M444 621h0M651 763h0M329 572h0M613 699h0M642 760h0M372 686h0M409 689h0M288 494h0M524 712h0M603 706h0M628 767h0M838 718h0M466 659h0M328 725h0M595 732h0M637 651h0M692 724h0M693 724h0M279 311h0M360 675h0M582 771h0M412 624h0M641 627h0M556 732h0M714 672h0M383 719h0M621 738h0M751 724h0M416 652h0M391 639h0M512 747h0M482 660h0M666 752h0M680 723h0M660 755h0M664 755h0M579 771h0M372 692h0M451 713h0M676 771h0M412 676h0M476 727h0M310 650h0M630 740h0"/><path d="M333 585h0M617 755h0M474 771h0M416 765h0M449 689h0M367 544h0M803 626h0M592 715h0M642 677h0M418 742h0M278 544h0M595 750h0M584 758h0M509 714h0M373 598h0M435 753h0M592 764h0M508 771h0M359 707h0M733 685h0M661 718h0M386 588h0M346 578h0M379 751h0M497 737h0M351 672h0M810 670h0M312 543h0M350 709h0M606 755h0M404 756h0M664 728h0M805 676h0M438 730h0M409 641h0M410 736h0M705 641h0M654 709h0M526 724h0M406 700h0M438 734h0M561 737h0M482 700h0M599 756h0M903 656h0M656 771h0M648 734h0M632 743h0M458 764h0M652 751h0M310 572h0M232 404h0M605 735h0M294 544h0M377 598h0M345 594h0M392 731h0M487 720h0M352 625h0M417 771h0M509 769h0M290 578h0M822 689h0M548 770h0M323 512h0M555 733h0M594 766h0M394 700h0M293 662h0M529 752h0M598 721h0M597 483h0M415 682h0M877 761h0M630 671h0M631 741h0M363 685h0M410 721h0M587 745h0M551 724h0M356 572h0M421 753h0M325 631h0M417 768h0M402 698h0M338 683h0M506 753h0M315 572h0M610 722h0M373 718h0M535 765h0M282 486h0M547 709h0M626 716h0M293 640h0M447 736h0M607 770h0M333 590h0M407 703h0M531 767h0M681 771h0M730 709h0M371 710h0M840 619h0M556 755h0M610 755h0M410 669h0M301 592h0M254 514h0M546 752h0M306 671h0M510 745h0M379 682h0M493 769h0M600 755h0M371 586h0M371 586h0M405 663h0"/><path d="M344 707h0M535 769h0M670 769h0M495 753h0M478 705h0M271 364h0M611 758h0M809 733h0M534 736h0M564 603h0M420 738h0M425 713h0M435 707h0M456 741h0M293 544h0M349 600h0M327 763h0M527 771h0M571 768h0M604 605h0M801 771h0M444 722h0M321 675h0M337 597h0M400 667h0M435 703h0M516 738h0M390 683h0M539 705h0M444 684h0M416 725h0M452 740h0M362 612h0M415 721h0M315 498h0M321 580h0M601 726h0M508 737h0M549 743h0M621 752h0M623 675h0M361 673h0M606 612h0M607 766h0M337 679h0M652 745h0M725 692h0M453 624h0M470 709h0M455 692h0M376 651h0M307 554h0M434 722h0M626 722h0M696 751h0M309 533h0M561 714h0M496 669h0M662 758h0M461 663h0M437 677h0M282 554h0M336 479h0M825 722h0M373 606h0M558 735h0M505 770h0M410 631h0M775 729h0M786 722h0M404 689h0M652 713h0M639 746h0M463 761h0M458 740h0M663 726h0M341 595h0M640 751h0M744 554h0M665 732h0M414 514h0M575 752h0M344 685h0M399 717h0M447 746h0M426 632h0M350 590h0M293 527h0M448 620h0M400 710h0M474 736h0M608 684h0M475 725h0M274 747h0M483 771h0M724 630h0M711 771h0M658 760h0M692 755h0M405 732h0M282 609h0M792 716h0M417 765h0M691 716h0M381 701h0M414 544h0M252 262h0M505 737h0M416 745h0M714 682h0M575 736h0M806 746h0M680 676h0M459 732h0M316 562h0M376 719h0M510 695h0M532 601h0"/><path d="M748 714h0M528 724h0M329 624h0M671 729h0M663 708h0M659 639h0M642 693h0M583 763h0M385 678h0M645 762h0M508 766h0M640 706h0M477 770h0M447 750h0M831 706h0M399 702h0M323 662h0M310 670h0M399 693h0M431 734h0M424 649h0M442 687h0M411 684h0M713 707h0M361 700h0M584 765h0M517 722h0M338 656h0M424 703h0M440 744h0M567 730h0M632 730h0M360 687h0M361 716h0M473 733h0M610 734h0M386 710h0M335 724h0M300 598h0M799 704h0M648 728h0M518 715h0M667 742h0M683 771h0M318 707h0M326 624h0M676 767h0M801 644h0M372 563h0M624 771h0M560 767h0M1017 600h0M426 767h0M511 702h0M580 767h0M465 716h0M508 749h0M413 620h0M624 771h0M643 758h0M385 638h0M465 711h0M467 765h0M583 706h0M433 645h0M407 608h0M677 750h0M532 656h0M473 724h0M629 754h0M455 750h0M523 702h0M661 755h0M442 764h0M494 702h0M608 704h0M472 733h0M397 720h0M299 686h0M491 766h0M410 771h0M510 697h0M279 656h0M509 704h0M328 633h0M687 715h0M415 682h0M290 548h0M669 765h0M576 696h0M491 759h0M572 725h0M656 709h0M446 726h0M488 682h0M536 732h0M340 672h0M625 691h0M296 518h0M675 706h0M432 708h0M510 714h0M626 706h0M447 747h0M748 767h0M575 739h0M436 743h0M308 617h0M688 771h0M664 766h0M492 755h0M807 669h0M499 771h0M527 760h0M348 664h0M541 728h0M465 710h0M534 715h0"/><path d="M682 679h0M669 733h0M471 731h0M501 619h0M650 691h0M536 751h0M404 687h0M341 649h0M369 700h0M786 678h0M384 659h0M465 764h0M463 689h0M482 730h0M644 746h0M597 745h0M263 380h0M435 750h0M611 766h0M466 662h0M455 762h0M686 672h0M377 694h0M625 755h0M625 635h0M658 763h0M509 690h0M450 756h0M230 192h0M602 771h0M412 769h0M365 664h0M532 748h0M854 661h0M368 527h0M630 724h0M397 764h0M646 652h0M452 756h0M422 701h0M438 683h0M521 715h0M502 770h0M447 696h0M813 698h0M655 751h0M299 687h0M606 760h0M317 516h0M839 710h0M570 753h0M662 740h0M340 534h0M308 544h0M540 733h0M346 609h0M266 554h0M693 706h0M486 756h0M621 726h0M464 771h0M537 649h0M363 634h0M539 771h0M606 748h0M367 705h0M485 747h0M447 734h0M378 654h0M413 638h0M373 711h0M506 772h0M456 741h0M633 717h0M595 754h0M368 654h0M284 676h0M342 589h0M665 758h0M542 726h0M388 619h0M508 697h0M708 655h0M523 721h0M476 746h0M284 380h0M598 771h0M457 743h0M542 753h0M324 572h0M405 708h0M384 658h0M677 761h0M534 731h0M818 647h0M727 687h0M671 762h0M640 760h0M816 578h0M668 771h0M776 747h0M448 653h0M653 765h0M346 690h0M1062 578h0M414 523h0M631 721h0M284 605h0M644 729h0M459 651h0M396 745h0M447 629h0M447 659h0M615 751h0M302 264h0M785 676h0M760 709h0M641 771h0"/><path d="M660 727h0M644 731h0M697 766h0M761 696h0M414 544h0M523 709h0M297 649h0M686 751h0M531 714h0M522 762h0M286 611h0M403 746h0M457 767h0M390 723h0M445 746h0M311 503h0M355 675h0M479 745h0M314 595h0M419 738h0M398 705h0M353 613h0M706 766h0M311 655h0M334 627h0M903 503h0M455 727h0M450 742h0M554 704h0M359 585h0M538 734h0M652 746h0M662 741h0M488 742h0M474 730h0M637 748h0M580 659h0M648 672h0M406 608h0M716 768h0M514 771h0M407 763h0M584 749h0M421 745h0M374 660h0M508 748h0M385 759h0M801 667h0M328 613h0M244 312h0M387 666h0M881 704h0M737 744h0M350 687h0M535 748h0M678 608h0M322 707h0M502 734h0M525 771h0M667 714h0M644 739h0M547 713h0M284 534h0M303 683h0M462 677h0M741 743h0M475 768h0M440 682h0M371 667h0M484 732h0M454 759h0M405 718h0M524 720h0M410 678h0M538 747h0M677 733h0M220 46h0M381 669h0M374 637h0M596 746h0M406 508h0M461 772h0M647 760h0M341 597h0M663 737h0M300 490h0M424 748h0M515 770h0M551 730h0M658 754h0M370 672h0M668 759h0M446 768h0M450 625h0M538 755h0M641 756h0M414 628h0M486 651h0M558 767h0M310 645h0M396 730h0M302 554h0M591 658h0M559 758h0M414 510h0M662 745h0M513 691h0M668 672h0M940 590h0M399 685h0M338 652h0M421 765h0M752 642h0M398 502h0M592 769h0M296 578h0M526 742h0M565 687h0"/><path d="M523 723h0M618 616h0M403 748h0M768 714h0M353 585h0M611 685h0M466 742h0M309 563h0M809 669h0M441 771h0M666 751h0M325 614h0M580 678h0M550 681h0M425 642h0M422 712h0M330 470h0M756 733h0M427 726h0M797 739h0M438 766h0M606 713h0M478 762h0M615 771h0M512 744h0M651 764h0M581 767h0M421 746h0M708 709h0M565 754h0M588 762h0M426 715h0M511 721h0M435 736h0M1282 393h0M307 553h0M801 721h0M487 739h0M823 723h0M828 731h0M470 659h0M832 664h0M524 729h0M406 769h0M569 764h0M333 531h0M494 716h0M429 586h0M401 724h0M608 772h0M551 747h0M472 693h0M450 750h0M634 676h0M423 749h0M785 655h0M708 684h0M690 761h0M559 771h0M832 765h0M658 716h0M505 750h0M713 717h0M493 734h0M536 689h0M579 744h0M394 639h0M416 702h0M323 628h0M674 748h0M314 480h0M589 752h0M664 756h0M451 745h0M411 734h0M537 751h0M455 720h0M342 627h0M220 46h0M502 766h0M626 739h0M447 629h0M571 735h0M630 731h0M661 735h0M435 732h0M329 678h0M301 700h0M388 687h0M310 649h0M332 702h0M364 613h0M295 570h0M372 645h0M428 657h0M1222 536h0M287 563h0M509 749h0M316 605h0M312 543h0M513 729h0M586 712h0M470 674h0M322 406h0M517 739h0M606 743h0M590 749h0M413 601h0M377 737h0M500 737h0M824 649h0M624 750h0M352 701h0M462 676h0M429 703h0M364 699h0M412 704h0M403 690h0"/><path d="M460 753h0M356 702h0M643 771h0M673 698h0M295 554h0M463 734h0M972 670h0M490 755h0M629 757h0M297 572h0M381 670h0M543 764h0M635 765h0M384 769h0M250 514h0M433 739h0M420 693h0M623 756h0M660 747h0M551 771h0M538 741h0M402 714h0M280 499h0M457 744h0M271 554h0M669 755h0M772 730h0M426 763h0M523 712h0M353 718h0M713 754h0M393 657h0M367 700h0M472 731h0M317 492h0M619 742h0M225 479h0M258 498h0M438 705h0M290 578h0M547 736h0M327 544h0M384 732h0M466 771h0M518 748h0M702 661h0M556 718h0M487 736h0M510 723h0M445 769h0M571 767h0M822 714h0M515 718h0M681 744h0M635 756h0M261 554h0M507 762h0M715 746h0M398 683h0M894 605h0M597 679h0M509 771h0M677 754h0M395 718h0M413 699h0M320 544h0M706 660h0M669 743h0M329 637h0M419 582h0M737 658h0M662 738h0M335 647h0M531 754h0M640 677h0M341 656h0M720 749h0M237 544h0M380 669h0M435 631h0M550 745h0M430 693h0M647 763h0M537 764h0M617 751h0M585 729h0M347 611h0M417 658h0M609 699h0M722 770h0M442 761h0M350 706h0M306 445h0M358 666h0M522 749h0M329 724h0M264 480h0M768 684h0M328 610h0M359 594h0M308 480h0M291 639h0M692 731h0M485 742h0M503 727h0M376 765h0M712 748h0M574 733h0M359 651h0M578 756h0M643 771h0M317 676h0M392 554h0M439 754h0M337 650h0M578 743h0M437 764h0M323 641h0"/><path d="M622 723h0M431 644h0M521 741h0M499 723h0M760 691h0M409 739h0M426 642h0M1003 584h0M524 725h0M481 724h0M281 620h0M678 768h0M517 698h0M376 687h0M346 581h0M342 572h0M449 689h0M581 771h0M669 668h0M585 731h0M590 728h0M245 612h0M541 766h0M534 740h0M640 711h0M322 391h0M433 718h0M664 743h0M351 610h0M399 674h0M412 641h0M619 763h0M774 674h0M738 706h0M581 704h0M623 771h0M456 734h0M265 611h0M322 396h0M674 728h0M513 758h0M426 721h0M634 771h0M604 710h0M440 634h0M697 660h0M591 743h0M524 723h0M468 755h0M345 605h0M397 660h0M374 675h0M354 591h0M440 677h0M650 763h0M651 718h0M351 696h0M376 683h0M760 752h0M465 728h0M699 643h0M805 687h0M372 651h0M297 682h0M625 758h0M433 757h0M454 740h0M421 693h0M699 743h0M479 700h0M348 627h0M659 686h0M330 480h0M918 634h0M349 580h0M412 771h0M350 578h0M641 767h0M660 697h0M343 713h0M478 720h0M264 480h0M657 765h0M615 764h0M754 703h0M504 734h0M505 752h0M776 750h0M466 711h0M529 741h0M461 657h0M624 756h0M327 612h0M632 764h0M496 716h0M567 770h0M833 665h0M502 744h0M405 704h0M281 502h0M756 613h0M294 544h0M572 720h0M420 757h0M395 667h0M654 723h0M475 771h0M479 610h0M373 678h0M916 689h0M602 772h0M362 647h0M675 742h0M837 726h0M421 649h0M526 754h0M473 627h0M281 703h0"/><path d="M418 767h0M417 749h0M766 743h0M312 663h0M752 703h0M456 675h0M506 738h0M628 771h0M248 322h0M535 732h0M447 738h0M484 725h0M351 615h0M268 331h0M557 743h0M307 621h0M414 506h0M435 741h0M435 701h0M558 771h0M456 687h0M579 724h0M393 770h0M420 749h0M500 771h0M341 665h0M343 699h0M713 693h0M377 710h0M549 752h0M422 705h0M513 734h0M380 654h0M515 743h0M674 749h0M540 753h0M574 771h0M371 663h0M342 524h0M768 701h0M699 740h0M389 759h0M451 730h0M637 771h0M399 686h0M643 743h0M639 633h0M385 634h0M359 654h0M422 738h0M370 694h0M380 650h0M616 763h0M380 759h0M472 742h0M484 771h0M348 675h0M292 534h0M525 771h0M597 704h0M380 640h0M267 508h0M683 746h0M730 751h0M560 727h0M608 748h0M378 611h0M429 741h0M308 682h0M459 715h0M634 771h0M423 720h0M461 670h0M524 688h0M910 45h0M647 762h0M560 744h0M649 756h0M509 733h0M510 698h0M977 645h0M443 677h0M660 755h0M616 767h0M705 738h0M883 656h0M852 514h0M600 710h0M437 738h0M667 729h0M563 748h0M585 715h0M880 748h0M440 764h0M378 704h0M420 741h0M571 728h0M626 742h0M427 698h0M318 655h0M475 740h0M624 762h0M461 698h0M412 771h0M528 711h0M619 766h0M640 740h0M471 700h0M642 606h0M239 432h0M343 637h0M428 763h0M341 653h0M542 738h0M639 758h0M652 731h0M630 734h0M424 771h0"/><path d="M644 666h0M778 693h0M743 645h0M632 750h0M743 771h0M576 769h0M909 650h0M497 732h0M654 737h0M608 717h0M528 737h0M484 730h0M315 507h0M497 763h0M465 685h0M287 674h0M583 730h0M288 480h0M320 616h0M438 729h0M383 683h0M877 671h0M609 690h0M532 714h0M547 750h0M514 697h0M812 668h0M303 596h0M361 709h0M369 693h0M559 736h0M376 514h0M362 679h0M553 754h0M584 761h0M421 685h0M345 682h0M361 608h0M402 739h0M630 771h0M416 770h0M522 771h0M615 697h0M343 635h0M743 587h0M305 705h0M477 751h0M426 715h0M316 565h0M525 752h0M487 764h0M774 635h0M592 764h0M486 748h0M594 731h0M586 727h0M616 635h0M546 713h0M374 703h0M569 628h0M299 633h0M970 612h0M402 747h0M463 642h0M482 732h0M442 743h0M819 735h0M600 733h0M685 746h0M523 743h0M709 768h0M329 592h0M780 698h0M304 640h0M359 588h0M600 771h0M603 634h0M427 729h0M349 728h0M447 652h0M467 741h0M555 771h0M616 762h0M315 618h0M324 544h0M830 584h0M512 722h0M652 771h0M322 437h0M497 747h0M574 706h0M337 643h0M443 645h0M426 728h0M588 713h0M484 768h0M497 732h0M670 655h0M363 614h0M288 494h0M366 621h0M486 740h0M367 739h0M489 719h0M772 757h0M634 685h0M270 468h0M715 767h0M620 701h0M311 613h0M429 703h0M572 755h0M351 632h0M388 616h0M312 684h0M342 627h0M450 771h0M503 713h0"/><path d="M338 674h0M424 657h0M362 700h0M336 626h0M581 741h0M677 748h0M508 745h0M410 718h0M445 740h0M583 738h0M550 771h0M461 731h0M685 741h0M578 729h0M571 752h0M630 731h0M312 517h0M326 670h0M265 631h0M431 553h0M412 685h0M420 758h0M371 658h0M641 767h0M602 746h0M447 677h0M692 628h0M465 755h0M624 751h0M306 572h0M465 673h0M483 736h0M338 544h0M456 730h0M339 581h0M510 727h0M491 762h0M409 767h0M774 698h0M525 712h0M486 758h0M484 734h0M887 734h0M484 647h0M797 692h0M500 765h0M819 738h0M442 765h0M273 505h0M661 676h0M672 770h0M544 771h0M350 592h0M467 727h0M558 731h0M270 512h0M552 726h0M625 734h0M753 726h0M310 544h0M460 470h0M364 657h0M320 578h0M405 764h0M524 712h0M432 754h0M411 771h0M545 713h0M510 744h0M572 770h0M583 710h0M588 758h0M388 723h0M442 771h0M499 772h0M356 653h0M511 720h0M506 743h0M569 733h0M608 733h0M409 738h0M686 744h0M951 698h0M398 720h0M427 730h0M471 771h0M463 613h0M370 729h0M618 754h0M673 720h0M894 744h0M471 771h0M456 759h0M641 704h0M622 747h0M481 737h0M530 748h0M382 661h0M486 699h0M451 754h0M454 684h0M492 673h0M670 750h0M447 741h0M339 658h0M727 646h0M612 762h0M495 771h0M477 702h0M563 762h0M516 747h0M439 742h0M446 754h0M840 693h0M737 771h0M663 742h0M462 615h0M704 564h0"/><path d="M414 635h0M334 682h0M934 584h0M583 733h0M571 756h0M365 696h0M649 634h0M448 755h0M370 622h0M595 728h0M530 744h0M530 755h0M463 705h0M668 751h0M293 485h0M434 741h0M327 544h0M455 736h0M413 750h0M561 766h0M312 542h0M354 660h0M640 768h0M556 726h0M714 725h0M535 719h0M920 590h0M295 585h0M649 746h0M444 715h0M630 758h0M290 714h0M339 611h0M456 771h0M471 714h0M358 734h0M609 720h0M641 743h0M753 718h0M333 554h0M621 738h0M270 470h0M629 750h0M770 714h0M281 445h0M380 721h0M396 651h0M485 769h0M581 742h0M615 737h0M543 713h0M730 756h0M428 704h0M863 595h0M613 744h0M769 669h0M442 680h0M665 770h0M624 745h0M419 736h0M382 603h0M630 690h0M555 772h0M424 692h0M579 747h0M759 690h0M333 653h0M296 563h0M699 703h0M524 770h0M522 746h0M653 697h0M480 734h0M655 750h0M385 697h0M434 694h0M605 769h0M639 771h0M731 734h0M490 764h0M433 711h0M489 701h0M532 736h0M453 722h0M504 705h0M507 765h0M283 615h0M449 764h0M535 746h0M402 701h0M284 607h0M602 772h0M615 767h0M414 544h0M477 725h0M454 743h0M693 665h0M963 595h0M434 681h0M292 707h0M636 593h0M549 771h0M749 714h0M490 750h0M524 770h0M381 741h0M430 687h0M311 692h0M349 709h0M639 648h0M658 691h0M492 729h0M461 682h0M585 728h0M511 755h0M296 665h0M567 746h0M658 698h0"/><path d="M418 741h0M782 769h0M266 502h0M627 756h0M475 726h0M753 691h0M683 750h0M562 761h0M409 771h0M492 749h0M647 747h0M358 732h0M619 686h0M705 723h0M681 692h0M277 516h0M481 754h0M430 757h0M505 690h0M337 651h0M638 679h0M352 703h0M500 719h0M659 758h0M449 752h0M395 663h0M556 766h0M812 641h0M681 737h0M572 738h0M338 715h0M410 707h0M629 751h0M464 737h0M434 677h0M576 763h0M364 641h0M984 441h0M532 746h0M351 647h0M638 767h0M358 610h0M604 741h0M557 760h0M604 771h0M835 676h0M706 736h0M547 748h0M389 713h0M577 769h0M648 768h0M564 757h0M574 762h0M593 768h0M710 741h0M597 769h0M295 510h0M595 657h0M577 739h0M459 743h0M632 767h0M329 602h0M539 764h0M310 510h0M333 721h0M382 661h0M447 765h0M837 708h0M349 585h0M275 697h0M299 480h0M273 500h0M528 714h0M306 600h0M817 701h0M587 765h0M275 460h0M428 749h0M719 692h0M325 554h0M485 756h0M409 649h0M845 615h0M519 693h0M395 758h0M824 771h0M411 765h0M979 688h0M706 749h0M401 715h0M635 686h0M372 563h0M353 615h0M358 630h0M618 705h0M287 404h0M394 730h0M599 753h0M297 494h0M546 725h0M708 752h0M665 729h0M687 768h0M827 648h0M435 666h0M662 771h0M441 634h0M347 534h0M659 738h0M387 713h0M483 741h0M403 635h0M307 519h0M288 489h0M636 735h0M447 758h0M597 700h0M437 700h0"/></g><g fill="none" stroke-width="2.9" stroke-linejoin="round"><rect x="186.2" y="21.5" width="115.9" height="765.2" stroke="#476b98"/><rect x="477.4" y="20.6" width="21.5" height="767" stroke="#cf8a3d"/><rect x="789" y="22.5" width="583.7" height="762.5" stroke="#5a9040"/></g><rect x="162.7" y="9" width="1233" height="800.5" fill="none" stroke="#000" stroke-width="2.8" stroke-linejoin="round"/><path d="M256.0 809V822 M414.4 809V822 M572.8 809V822 M731.2 809V822 M889.6 809V822 M1048.0 809V822 M1206.4 809V822 M1364.8 809V822 M149 678.4H162.5 M149 543.8H162.5 M149 409.2H162.5 M149 274.6H162.5 M149 140.0H162.5" stroke="#000" stroke-width="2.8"/><g font-family="Liberation Sans, sans-serif" font-size="44" text-anchor="middle" fill="#000"><text x="416.9" y="865.5">2</text><text x="575.3" y="865.5">3</text><text x="733.7" y="865.5">4</text><text x="892.1" y="865.5">5</text><text x="1050.5" y="865.5">6</text><text x="1208.9" y="865.5">7</text><text x="1367.3" y="865.5">8</text></g><g font-family="Liberation Sans, sans-serif" font-size="44" text-anchor="end" fill="#000"><text x="139" y="559.6">2</text><text x="139" y="425.0">3</text><text x="139" y="290.4">4</text><text x="139" y="155.8">5</text></g><path d="M0.368 0.716L0.368 0L0.280 0L0.280 0.560Q0.245 0.527 0.190 0.495Q0.140 0.466 0.109 0.452L0.109 0.537Q0.180 0.570 0.235 0.620Q0.290 0.668 0.313 0.716Z" transform="translate(112.94,694.20) scale(44,-44)" fill="#000"/><path d="M0.368 0.716L0.368 0L0.280 0L0.280 0.560Q0.245 0.527 0.190 0.495Q0.140 0.466 0.109 0.452L0.109 0.537Q0.180 0.570 0.235 0.620Q0.290 0.668 0.313 0.716Z" transform="translate(246.27,865.50) scale(44,-44)" fill="#000"/><text font-family="Liberation Sans, sans-serif" font-size="44.4" x="780" y="931" text-anchor="middle">Decoding time of first ten codons [sec]</text><g font-family="Liberation Sans, sans-serif" font-size="44" transform="translate(37,410) rotate(-90)"><text x="0" y="0" text-anchor="middle">Probability of observing</text><text x="-273.47" y="49">more extreme speed [-log</text><text x="244.56" y="57" font-size="30">0</text><text x="261.24" y="49">]</text><path d="M0.368 0.716L0.368 0L0.280 0L0.280 0.560Q0.245 0.527 0.190 0.495Q0.140 0.466 0.109 0.452L0.109 0.537Q0.180 0.570 0.235 0.620Q0.290 0.668 0.313 0.716Z" transform="translate(227.87,57.00) scale(30,-30)" fill="#000"/></g><text font-family="Liberation Sans, sans-serif" font-size="43" font-weight="bold" x="5.6" y="37.5">A</text><text font-family="Liberation Sans, sans-serif" font-size="43" font-weight="bold" x="4.2" y="1011">B</text><rect x="161" y="1007" width="411.2" height="468.8" fill="none" stroke="#000" stroke-width="2.8"/><path d="M148.6 1074.4H161M148.6 1275.1H161M148.6 1475.8H161" stroke="#000" stroke-width="2.8"/><g font-family="Liberation Sans, sans-serif" font-size="44" text-anchor="end"><text x="130.2" y="1492.3">0</text><text x="130.2" y="1291.6">3</text><text x="130.2" y="1090.9">6</text></g><rect x="174.2" y="1165.8" width="111.0" height="74.7" fill="#4d72a1" stroke="#3d3d3d" stroke-width="3"/><path d="M174.2 1202.8H285.2M229.7 1165.8V1082.5M202 1082.5H257.5M229.7 1240.5V1320.8M202 1320.8H257.5" stroke="#3d3d3d" stroke-width="2.8" fill="none"/><path d="M229.7 1382.3L233.1 1391.3L229.7 1400.3L226.3 1391.3Z" fill="#1c1c1c"/><rect x="313" y="1228.6" width="109.7" height="37.6" fill="#d4843b" stroke="#3d3d3d" stroke-width="3"/><path d="M313 1248.2H422.7M367.9 1228.6V1177.8M339.5 1177.8H395.8M367.9 1266.2V1317.8M339.5 1317.8H395.8" stroke="#3d3d3d" stroke-width="2.8" fill="none"/><path d="M367.9 1159.4L371.2 1168.4L367.9 1177.4L364.5 1168.4Z" fill="#1c1c1c"/><path d="M367.9 1326.5L371.2 1335.5L367.9 1344.5L364.5 1335.5Z" fill="#1c1c1c"/><path d="M367.9 1335.9L371.2 1344.9L367.9 1353.9L364.5 1344.9Z" fill="#1c1c1c"/><rect x="451.3" y="1236.7" width="109.3" height="33.3" fill="#5c9a3f" stroke="#3d3d3d" stroke-width="3"/><path d="M451.3 1253.3H560.6M506.0 1236.7V1188.4M477.4 1188.4H533.7M506.0 1270V1318.7M477.4 1318.7H533.7" stroke="#3d3d3d" stroke-width="2.8" fill="none"/><path d="M506.0 1169.6L509.4 1178.6L506.0 1187.6L502.6 1178.6Z" fill="#1c1c1c"/><g font-family="Liberation Sans, sans-serif" font-size="31.5" text-anchor="middle"><text x="229.7" y="1506.5">fastest</text><text x="368" y="1506.5">central</text><text x="506" y="1506.5">slowest</text></g><text font-family="Liberation Sans, sans-serif" font-size="44.4" x="366.2" y="1575" text-anchor="middle">speed group</text><g font-family="Liberation Sans, sans-serif" font-size="44" transform="translate(84.9,1243) rotate(-90)"><text x="-222.12" y="0">Proteins per cell [log</text><text x="193.21" y="8" font-size="30">0</text><text x="209.89" y="0">]</text><path d="M0.368 0.716L0.368 0L0.280 0L0.280 0.560Q0.245 0.527 0.190 0.495Q0.140 0.466 0.109 0.452L0.109 0.537Q0.180 0.570 0.235 0.620Q0.290 0.668 0.313 0.716Z" transform="translate(176.52,8.00) scale(30,-30)" fill="#000"/></g><text font-family="Liberation Sans, sans-serif" font-size="43" font-weight="bold" x="604.3" y="1011">C</text><rect x="1234.3" y="1028.9" width="139.6" height="141.1" fill="#b3b3b3"/><circle cx="1264.2" cy="1075.6" r="21.4" fill="#6d6d6d"/><circle cx="1264.2" cy="1125.8" r="15" fill="#6d6d6d"/><g font-family="Liberation Sans, sans-serif" font-size="21.5"><text x="1295.5" y="1081.3">200</text><text x="1307.45" y="1131.2">00</text></g><path d="M0.368 0.716L0.368 0L0.280 0L0.280 0.560Q0.245 0.527 0.190 0.495Q0.140 0.466 0.109 0.452L0.109 0.537Q0.180 0.570 0.235 0.620Q0.290 0.668 0.313 0.716Z" transform="translate(1295.50,1131.20) scale(21.5,-21.5)" fill="#000"/><text font-family="Liberation Sans, sans-serif" font-size="21.5" transform="translate(1359,1095.3) rotate(-90)" text-anchor="middle">no. of genes</text><path d="M1047.4 1008V1474M1187.6 1008V1474" stroke="#000" stroke-width="2.3" stroke-dasharray="2.1 1.95"/><circle cx="1047.3" cy="1027.4" r="10.7" fill="#4270ac" fill-opacity="0.62"/><circle cx="1047.5" cy="1252.9" r="19.0" fill="#4270ac" fill-opacity="0.62"/><circle cx="1048" cy="1306" r="17" fill="#4270ac" fill-opacity="0.62"/><circle cx="1047.2" cy="1312.5" r="16.2" fill="#4270ac" fill-opacity="0.62"/><circle cx="1047" cy="1317" r="11.8" fill="#4270ac" fill-opacity="0.62"/><circle cx="1047.5" cy="1338.4" r="20.4" fill="#4270ac" fill-opacity="0.62"/><circle cx="1047.5" cy="1413.5" r="9.8" fill="#4270ac" fill-opacity="0.62"/><circle cx="1047.5" cy="1425.1" r="7.1" fill="#4270ac" fill-opacity="0.62"/><circle cx="1047.5" cy="1437.2" r="5.3" fill="#4270ac" fill-opacity="0.62"/><circle cx="1047.5" cy="1456.2" r="5" fill="#4270ac" fill-opacity="0.62"/><circle cx="1187.4" cy="1425.8" r="21.5" fill="#53983e" fill-opacity="0.6"/><circle cx="1187.3" cy="1435" r="12" fill="#53983e" fill-opacity="0.6"/><rect x="845.5" y="1007" width="550.8" height="468" fill="none" stroke="#000" stroke-width="2.4"/><path d="M832.8 1475.2H845.5 M832.8 1336.6H845.5 M832.8 1198.0H845.5 M832.8 1059.4H845.5" stroke="#000" stroke-width="2.8"/><g font-family="Liberation Sans, sans-serif" font-size="44" text-anchor="end"><text x="826.3" y="1491.0">0</text><text x="826.3" y="1213.8">20</text><text x="826.3" y="1075.2">30</text><text x="826.3" y="1352.4">0</text></g><path d="M0.368 0.716L0.368 0L0.280 0L0.280 0.560Q0.245 0.527 0.190 0.495Q0.140 0.466 0.109 0.452L0.109 0.537Q0.180 0.570 0.235 0.620Q0.290 0.668 0.313 0.716Z" transform="translate(777.37,1352.40) scale(44,-44)" fill="#000"/><path d="M1005.2 1057.7L1038 1035.2M1025.6 1216.5L1033.4 1238.7M1002.7 1282.2L1040.7 1313M1009.8 1398.4L1040 1406.4M1210.3 1348.5L1195.1 1405.5M1199.2 1433.6L1237.2 1437.9" stroke="#000" stroke-width="1.8" fill="none"/><g font-family="Liberation Sans, sans-serif" font-size="27.5" text-anchor="end"><text x="1000.5" y="1050.3">cytoplasmic</text><text x="1007" y="1085.1">translation</text><text x="1020" y="1213.7">nitrogen</text><text x="1027" y="1236">metabolism</text><text x="997.8" y="1282.2">gene</text><text x="1004.4" y="1304.1">expression</text><text x="1002.2" y="1396.6">nucleotide</text><text x="1009" y="1419.8">metabolism</text></g><g font-family="Liberation Sans, sans-serif" font-size="29.5"><text x="1214.5" y="1341.1">cellular</text><text x="1214.8" y="1365.1">process</text></g><g font-family="Liberation Sans, sans-serif" font-size="26.5"><text x="1239.6" y="1424.9">cellular</text><text x="1239.6" y="1446.2">response</text><text x="1239.6" y="1468">to stimulus</text></g><g font-family="Liberation Sans, sans-serif" font-size="31.5" text-anchor="middle"><text x="1047.6" y="1506.5">fastest</text><text x="1187.3" y="1506.5">slowest</text></g><text font-family="Liberation Sans, sans-serif" font-size="44.4" x="1120.5" y="1574.6" text-anchor="middle">speed group</text><g font-family="Liberation Sans, sans-serif" font-size="44" text-anchor="middle" transform="translate(703.6,1245) rotate(-90)"><text x="0" y="0">GO term enrichment</text><text x="0" y="49.4">[-log(p)]</text></g></svg></body></html>
